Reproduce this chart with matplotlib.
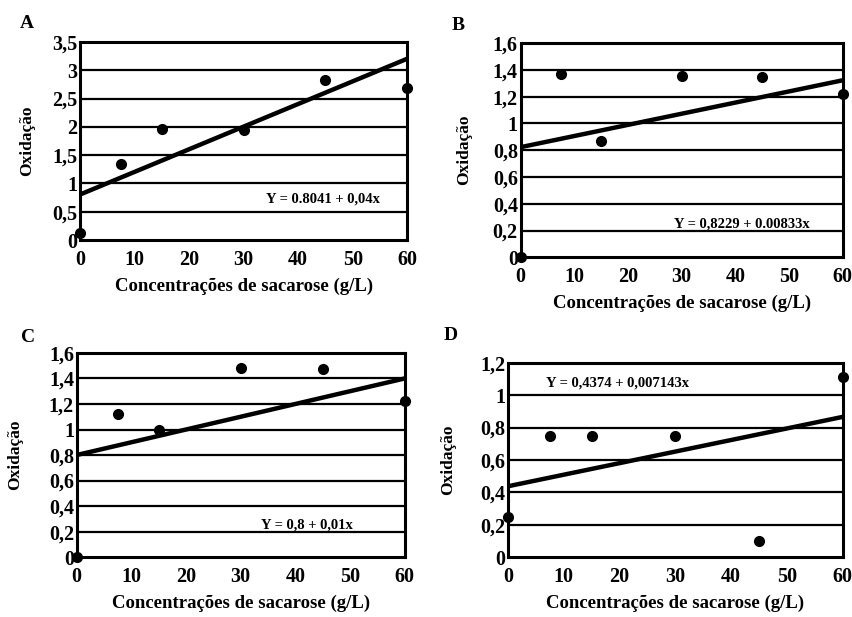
import numpy as np
import matplotlib.pyplot as plt

# concentrations (g/L) shared by all four panels
conc = [0, 7.5, 15, 30, 45, 60]

oxid_a = [0.12, 1.35, 1.97, 1.95, 2.82, 2.68]
oxid_b = [0.0, 1.37, 0.87, 1.355, 1.35, 1.22]
oxid_c = [0.0, 1.12, 1.0, 1.48, 1.475, 1.22]
oxid_d = [0.25, 0.75, 0.75, 0.745, 0.10, 1.11]

# regression intercept / slope as printed in each panel
fit_a = (0.8041, 0.04)
fit_b = (0.8229, 0.00833)
fit_c = (0.8, 0.01)
fit_d = (0.4374, 0.007143)

eq_a = "Y = 0.8041 + 0,04x"
eq_b = "Y = 0,8229 + 0.00833x"
eq_c = "Y = 0,8 + 0,01x"
eq_d = "Y = 0,4374 + 0,007143x"

ylim_a, yticks_a = 3.5, [0, 0.5, 1, 1.5, 2, 2.5, 3, 3.5]
ylim_b, yticks_b = 1.6, [0, 0.2, 0.4, 0.6, 0.8, 1, 1.2, 1.4, 1.6]
ylim_c, yticks_c = 1.6, [0, 0.2, 0.4, 0.6, 0.8, 1, 1.2, 1.4, 1.6]
ylim_d, yticks_d = 1.2, [0, 0.2, 0.4, 0.6, 0.8, 1, 1.2]

plt.rcParams['font.family'] = 'Liberation Serif'
plt.rcParams['font.weight'] = 'bold'

W, H = 852, 617
fig = plt.figure(figsize=(W / 100, H / 100), dpi=100)

# letter, axes rect, data, fit, equation, ymax, yticks, equation position,
# letter position (px), ylabel offset (px)
panels = [
    ("A", [0.094, 0.611, 0.384, 0.321], oxid_a, fit_a, eq_a, ylim_a, yticks_a,
     (55, 0.73, 'right'), (27, 23), 53),
    ("B", [0.611, 0.583, 0.378, 0.347], oxid_b, fit_b, eq_b, ylim_b, yticks_b,
     (53.8, 0.25, 'right'), (458, 25), 56),
    ("C", [0.090, 0.097, 0.385, 0.331], oxid_c, fit_c, eq_c, ylim_c, yticks_c,
     (50.6, 0.25, 'right'), (28, 337), 62),
    ("D", [0.596, 0.097, 0.393, 0.315], oxid_d, fit_d, eq_d, ylim_d, yticks_d,
     (6.9, 1.075, 'left'), (451, 335), 60),
]


def fmt(v):
    s = f"{v:g}"
    return s.replace(".", ",")


for letter, rect, yvals, fit, eq, ymax, yticks, eqpos, lpos, yoff in panels:
    ax = fig.add_axes(rect)
    for t in yticks[1:-1]:
        ax.axhline(t, color='black', lw=1.6, zorder=1)
    xs = np.array([0, 60])
    ax.plot(xs, fit[0] + fit[1] * xs, color='black', lw=3.2, zorder=2,
            solid_capstyle='butt')
    ax.plot(conc, yvals, 'o', color='black', ms=7, zorder=3, clip_on=False)
    ax.set_xlim(0, 60)
    ax.set_ylim(0, ymax)
    ax.set_xticks([0, 10, 20, 30, 40, 50, 60])
    ax.set_yticks(yticks)
    ax.set_yticklabels([fmt(t) for t in yticks])
    ax.tick_params(length=0, labelsize=14.5)
    ax.tick_params(axis='x', pad=7)
    ax.tick_params(axis='y', pad=2)
    for lab in ax.get_xticklabels() + ax.get_yticklabels():
        lab.set_fontweight('bold')
    for sp in ax.spines.values():
        sp.set_linewidth(2.2)
    ax.set_xlabel("Concentrações de sacarose (g/L)", fontsize=13.5,
                  fontweight='bold')
    ax.set_ylabel("Oxidação", fontsize=12.5, fontweight='bold')
    ax.xaxis.label.set_va('center')
    ax.yaxis.label.set_va('center')
    ax.xaxis.set_label_coords(0.5, -46 / (rect[3] * H))
    ax.yaxis.set_label_coords(-yoff / (rect[2] * W), 0.5)
    ax.text(eqpos[0], eqpos[1], eq, ha=eqpos[2], va='center', fontsize=10.5,
            fontweight='bold', zorder=4)
    fig.text(lpos[0] / W, 1 - lpos[1] / H, letter, fontsize=14,
             fontweight='bold', ha='center', va='center')

fig.savefig("out.png", dpi=100)
